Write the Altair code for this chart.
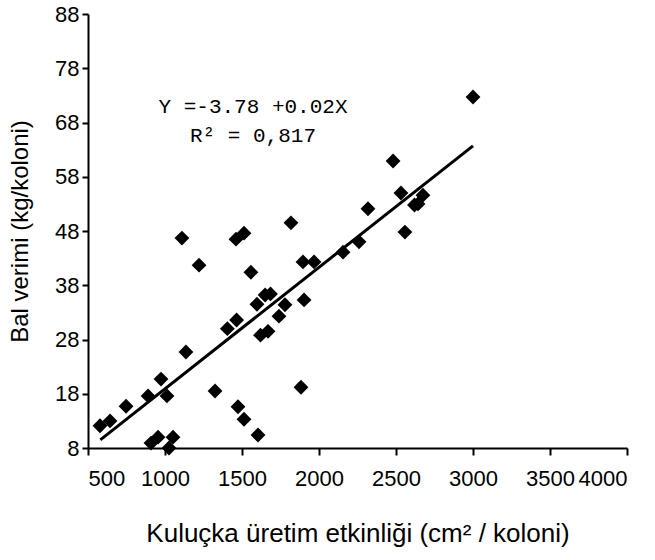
import altair as alt
import pandas as pd

# Data
brood = [578, 643, 747, 890, 974, 1013, 909, 955, 1052, 1026,
         1136, 1110, 1221, 1325, 1405, 1465, 1461, 1513, 1474, 1513,
         1558, 1597, 1620, 1604, 1650, 1685, 1669, 1740, 1779, 1818,
         1883, 1903, 1896, 1968, 2156, 2260, 2318, 2481, 2532, 2558,
         2620, 2643, 2675, 3000]
honey = [12.1, 13.0, 15.7, 17.6, 20.7, 17.6, 8.9, 10.0, 10.0, 8.0,
         25.7, 46.7, 41.7, 18.5, 30.0, 31.6, 46.5, 47.6, 15.6, 13.3,
         40.4, 34.5, 28.8, 10.4, 36.2, 36.4, 29.5, 32.3, 34.4, 49.5,
         19.2, 35.3, 42.3, 42.3, 44.1, 46.0, 52.1, 60.9, 55.0, 47.8,
         52.8, 53.0, 54.6, 72.7]

line_x = [580, 3000]
line_y = [9.5, 63.7]

x_ticks = [500, 1000, 1500, 2000, 2500, 3000, 3500, 4000]
y_ticks = [8, 18, 28, 38, 48, 58, 68, 78, 88]

eq_line1 = ["Y =-3.78 +0.02X"]
eq_line2 = ["R\u00b2 = 0,817"]

pts = pd.DataFrame({"x": brood, "y": honey})
fit = pd.DataFrame({"x": line_x, "y": line_y})

FONT = "Liberation Sans"

xscale = alt.Scale(domain=[500, 4000], nice=False, zero=False)
yscale = alt.Scale(domain=[8, 88], nice=False, zero=False)

xaxis = alt.Axis(values=x_ticks, format="d",
                 title="Kuluçka üretim etkinliği (cm\u00b2 / koloni)",
                 grid=False, domainColor="black", domainWidth=2, tickColor="black",
                 tickWidth=2, tickSize=7, labelFont=FONT, labelFontSize=22,
                 labelColor="black", labelPadding=13, titleFont=FONT,
                 titleFontSize=26, titleFontWeight="normal", titleColor="black",
                 titlePadding=31)
yaxis = alt.Axis(values=y_ticks, format="d", title="Bal verimi (kg/koloni)",
                 grid=False, domainColor="black", domainWidth=2, tickColor="black",
                 tickWidth=2, tickSize=6, labelFont=FONT, labelFontSize=22,
                 labelColor="black", labelPadding=3, titleFont=FONT,
                 titleFontSize=24, titleFontWeight="normal", titleColor="black",
                 titlePadding=22)

points = alt.Chart(pts).mark_point(shape="diamond", filled=True, size=220,
                                   color="black", opacity=1).encode(
    x=alt.X("x:Q", scale=xscale, axis=xaxis),
    y=alt.Y("y:Q", scale=yscale, axis=yaxis),
)

line = alt.Chart(fit).mark_line(color="black", strokeWidth=3).encode(
    x=alt.X("x:Q", scale=xscale),
    y=alt.Y("y:Q", scale=yscale),
)

def eq_text(lines, ypix):
    return alt.Chart(pd.DataFrame({"t": lines})).mark_text(
        font="Liberation Mono", fontSize=21, color="black",
        align="center", baseline="middle").encode(
        x=alt.value(165), y=alt.value(ypix), text="t:N")

chart = alt.layer(line, points, eq_text(eq_line1, 93), eq_text(eq_line2, 122)).properties(
    width=539, height=434,
    autosize=alt.AutoSizeParams(type="none"),
    padding={"left": 88, "top": 14, "right": 28, "bottom": 112},
    background="white",
).configure_view(stroke=None)

chart.save("out.html", embed_options={"renderer": "svg", "actions": False})
